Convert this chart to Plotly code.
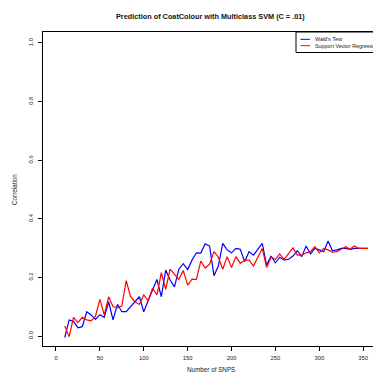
import plotly.graph_objects as go

snps = list(range(10, 360, 5))

wald = [-0.005, 0.055, 0.050, 0.028, 0.032, 0.083, 0.072, 0.057, 0.073, 0.064,
        0.117, 0.055, 0.108, 0.083, 0.083, 0.100, 0.117, 0.134, 0.083, 0.123,
        0.157, 0.193, 0.134, 0.225, 0.191, 0.168, 0.228, 0.247, 0.227, 0.259,
        0.284, 0.283, 0.315, 0.307, 0.206, 0.239, 0.316, 0.294, 0.284, 0.299,
        0.296, 0.254, 0.288, 0.276, 0.294, 0.316, 0.242, 0.273, 0.250, 0.269,
        0.259, 0.262, 0.273, 0.291, 0.271, 0.307, 0.280, 0.299, 0.294, 0.288,
        0.324, 0.291, 0.294, 0.299, 0.299, 0.296, 0.299, 0.299, 0.299, 0.299]

svr = [0.034, -0.002, 0.064, 0.046, 0.064, 0.055, 0.052, 0.068, 0.125, 0.072,
       0.134, 0.100, 0.097, 0.102, 0.189, 0.134, 0.117, 0.108, 0.140, 0.120,
       0.163, 0.140, 0.216, 0.159, 0.228, 0.212, 0.193, 0.224, 0.174, 0.194,
       0.193, 0.256, 0.232, 0.245, 0.288, 0.269, 0.228, 0.271, 0.234, 0.271,
       0.248, 0.259, 0.259, 0.239, 0.271, 0.299, 0.234, 0.269, 0.262, 0.280,
       0.262, 0.280, 0.301, 0.276, 0.276, 0.284, 0.288, 0.305, 0.284, 0.299,
       0.294, 0.286, 0.288, 0.296, 0.305, 0.296, 0.307, 0.299, 0.299, 0.299]

series_names = ["Wald's Test", "Support Vector Regression"]
series_colors = ["#0000FF", "#FF0000"]

x_ticks = [0, 50, 100, 150, 200, 250, 300, 350]
y_ticks = [0.0, 0.2, 0.4, 0.6, 0.8, 1.0]
y_tick_labels = ["0.0", "0.2", "0.4", "0.6", "0.8", "1.0"]

W, H = 373, 377
ML, MR, MT, MB = 43, 0, 32, 31
PW, PH = W - ML - MR, H - MT - MB

def px(xp):
    return (xp - ML) / PW

def py(yp):
    return (H - MB - yp) / PH

FONT = "Liberation Sans, Arial, Helvetica, sans-serif"
TXT = "#222222"

fig = go.Figure()
for name, vals, col in zip(series_names, [wald, svr], series_colors):
    fig.add_trace(go.Scatter(x=snps, y=vals, mode="lines", name=name,
                             line=dict(color=col, width=1.2), showlegend=False))

fig.update_layout(
    width=W, height=H,
    margin=dict(l=ML, r=MR, t=MT, b=MB, pad=0),
    paper_bgcolor="white", plot_bgcolor="white",
    font=dict(family=FONT, color=TXT, size=5.8),
    xaxis=dict(range=[-14.8, 361.2], tickvals=x_ticks, ticks="outside", ticklen=4,
               tickwidth=1, tickcolor="black", showgrid=False, zeroline=False,
               showline=True, mirror=True, linecolor="black", linewidth=1.2,
               ticklabelstandoff=2,
               tickfont=dict(size=5.8, family=FONT, color=TXT)),
    yaxis=dict(range=[-0.034, 1.0375], tickvals=y_ticks, ticktext=y_tick_labels,
               ticks="outside", ticklen=4, tickwidth=1, tickcolor="black",
               showgrid=False, zeroline=False, showline=True, linecolor="black",
               linewidth=1.2, tickangle=-90, ticklabelstandoff=3,
               tickfont=dict(size=5.8, family=FONT, color=TXT)),
)

anns = [
    dict(text="<b>Prediction of CoatColour with Multiclass SVM (C = .01)</b>",
         x=px(211), y=py(16.5), font=dict(size=7.3, family=FONT, color="#111111")),
    dict(text="Number of SNPS", x=px(211), y=py(369),
         font=dict(size=6.3, family=FONT, color=TXT)),
    dict(text="Correlation", x=px(14), y=py(190), textangle=-90,
         font=dict(size=6.3, family=FONT, color=TXT)),
]
for a in anns:
    fig.add_annotation(xref="paper", yref="paper", showarrow=False,
                       xanchor="center", yanchor="middle", **a)

# legend box (top-right, clipped by the page edge as in the original)
fig.add_shape(type="rect", xref="paper", yref="paper",
              x0=px(296), x1=px(395), y0=py(52.5), y1=py(32),
              line=dict(color="black", width=1), fillcolor="white", layer="above")
for i, (name, col) in enumerate(zip(series_names, series_colors)):
    yy = 39.3 + i * 6.4
    fig.add_shape(type="line", xref="paper", yref="paper",
                  x0=px(300.5), x1=px(310), y0=py(yy), y1=py(yy),
                  line=dict(color=col, width=1), layer="above")
    fig.add_annotation(xref="paper", yref="paper", showarrow=False,
                       text=name, x=px(313), y=py(yy), xanchor="left",
                       yanchor="middle", font=dict(size=5.4, family=FONT, color=TXT))

fig.write_html("out.html")
